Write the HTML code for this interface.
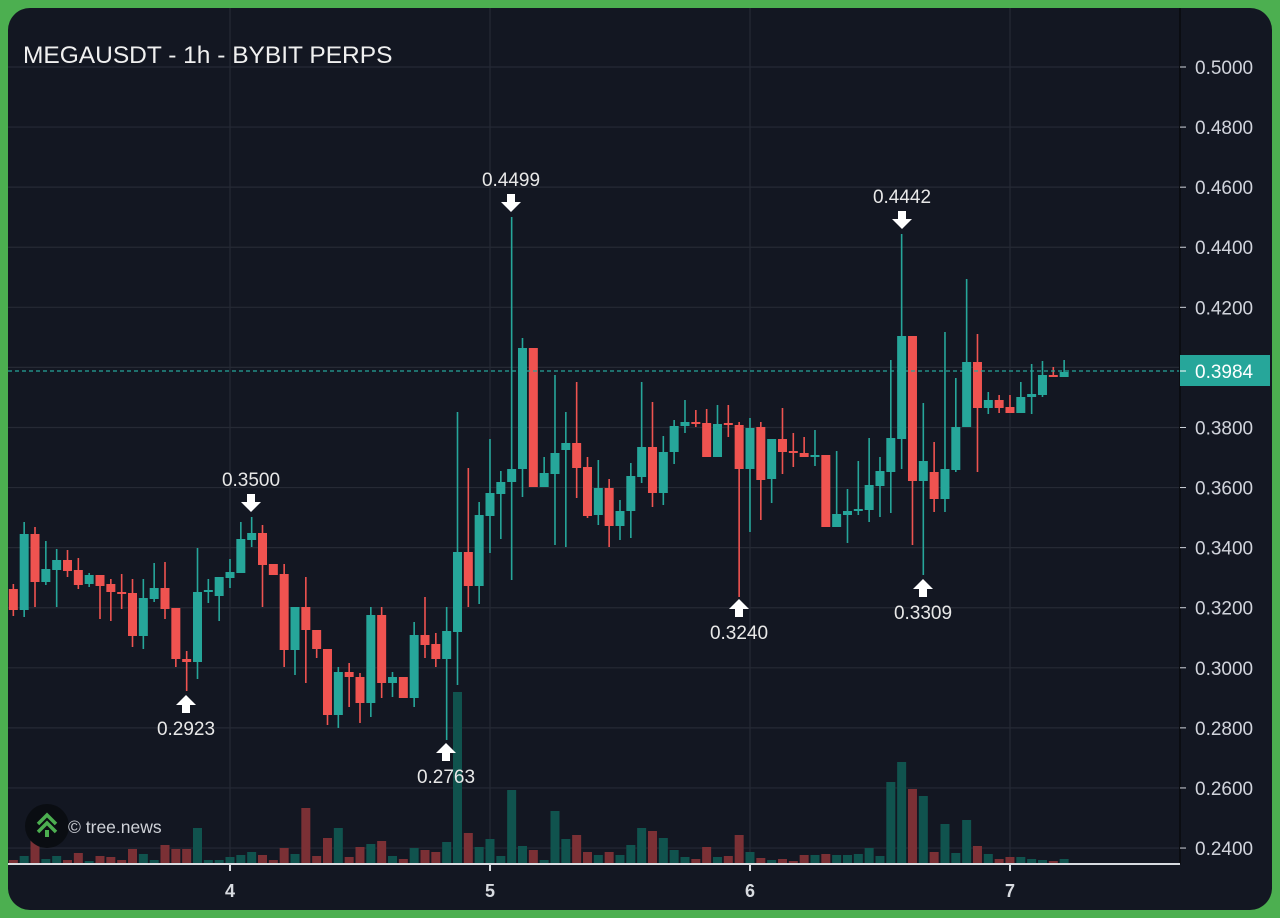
<!DOCTYPE html>
<html><head><meta charset="utf-8">
<style>
html,body{margin:0;padding:0;background:#4caf50;}
body{width:1280px;height:918px;overflow:hidden;font-family:"Liberation Sans",sans-serif;}
svg{display:block}
</style></head><body>
<svg id="s" width="1280" height="918" xmlns="http://www.w3.org/2000/svg">
<rect x="0" y="0" width="1280" height="918" fill="#4caf50"/>
<rect x="8" y="8" width="1264" height="902" rx="22" fill="#131722"/>
<g id="grid"></g>
<g id="vol"></g>
<g id="candles"></g>
<line x1="8" y1="371" x2="1180" y2="371" stroke="#26a69a" stroke-width="1.3" stroke-dasharray="4,3"/>
<line x1="1180" y1="8" x2="1180" y2="864" stroke="#0b0d12" stroke-width="2"/>
<line x1="8" y1="864" x2="1180" y2="864" stroke="#d8dbe0" stroke-width="2"/>
<g id="axis" font-size="19" fill="#d1d4dc"></g>
<rect x="1180" y="355" width="90" height="31" fill="#26a69a"/>
<line x1="1180" y1="371" x2="1186" y2="371" stroke="#fff" stroke-width="1"/>
<text x="1195" y="378" font-size="19" fill="#fff">0.3984</text>
<text x="23" y="63" font-size="24.5" fill="#f0f0f0">MEGAUSDT - 1h - BYBIT PERPS</text>
<g id="ann" font-size="19" fill="#e8e8e8" text-anchor="middle"></g>
<circle cx="47" cy="826" r="22" fill="#0a0d12"/>
<path d="M38 824 L47 815 L56 824 M38 832 L47 823 L56 832" stroke="#4caf50" stroke-width="3.5" fill="none"/>
<rect x="45" y="830" width="4" height="7" fill="#4caf50"/>
<text x="68" y="833" font-size="17.5" fill="#cfd2d8">© tree.news</text>
<g font-size="18" font-weight="bold" fill="#d8dbe0" text-anchor="middle">
<text x="230" y="897">4</text><text x="490" y="897">5</text><text x="750" y="897">6</text><text x="1010" y="897">7</text>
</g>
</svg>
<script>
var NS="http://www.w3.org/2000/svg";
function el(p,t,a,txt){var e=document.createElementNS(NS,t);for(var k in a)e.setAttribute(k,a[k]);if(txt)e.textContent=txt;document.getElementById(p).appendChild(e);return e;}
for(var k=0;k<14;k++){var y=67+k*60.08;el("grid","line",{x1:8,x2:1180,y1:y,y2:y,stroke:"#262a35","stroke-width":1.2});
el("axis","line",{x1:1180,x2:1186,y1:y,y2:y,stroke:"#d1d4dc"});
el("axis","text",{x:1195,y:y+7},(0.5-k*0.02).toFixed(4));}
[230,490,750,1010].forEach(function(x){el("grid","line",{x1:x,x2:x,y1:8,y2:864,stroke:"#262a35","stroke-width":1.2});el("axis","line",{x1:x,x2:x,y1:864,y2:871,stroke:"#d8dbe0","stroke-width":2});});
var C=[[589,610,584,616,'r'],[534,610,522,617,'g'],[534,582,527,607,'r'],[569,582,541,585,'g'],[560,570,549,607,'g'],[560,571,550,577,'r'],[570,585,558,589,'r'],[575,584,573,587,'g'],[575,586,575,619,'r'],[584,592,579,621,'r'],
[592,594,574,609,'r'],[593,636,579,647,'r'],[598,636,579,649,'g'],[588,599,563,602,'g'],[588,609,562,619,'r'],[608,659,608,667,'r'],[659,662,651,691,'r'],[592,662,548,679,'g'],[590,592,579,603,'g'],[577,596,577,621,'g'],
[572,578,559,588,'g'],[539,573,522,573,'g'],[533,540,517,547,'g'],[533,565,525,607,'r'],[564,575,564,575,'r'],[574,650,564,667,'r'],[607,650,607,675,'g'],[607,630,577,683,'r'],[630,649,630,658,'r'],[649,715,649,725,'r'],
[672,715,667,728,'g'],[672,677,663,707,'r'],[677,703,673,723,'r'],[615,703,607,717,'g'],[615,683,607,698,'r'],[677,683,672,697,'g'],[677,698,677,698,'r'],[635,698,622,707,'g'],[635,645,597,658,'r'],[644,659,633,667,'r'],
[631,659,607,740,'g'],[552,632,412,685,'g'],[552,586,468,607,'r'],[515,586,502,604,'g'],[493,516,439,553,'g'],[482,494,471,539,'g'],[469,482,217,580,'g'],[348,469,338,497,'g'],[348,487,348,487,'r'],[473,487,457,487,'g'],
[453,474,375,545,'g'],[443,450,412,547,'g'],[443,468,382,498,'r'],[467,516,457,518,'r'],[488,515,460,525,'g'],[488,526,479,547,'r'],[511,526,500,540,'g'],[476,511,463,538,'g'],[447,477,382,483,'g'],[447,493,402,507,'r'],
[452,493,436,505,'g'],[426,452,420,464,'g'],[422,426,400,433,'g'],[422,424,410,427,'r'],[423,457,409,457,'r'],[424,457,405,457,'g'],[423,425,405,437,'r'],[425,469,422,597,'r'],[428,469,418,532,'g'],[427,480,422,520,'r'],
[439,479,439,503,'g'],[439,452,408,474,'r'],[451,453,433,467,'r'],[453,457,437,457,'r'],[455,457,430,466,'g'],[455,527,455,527,'r'],[514,527,451,527,'g'],[511,515,489,543,'g'],[509,511,461,515,'g'],[485,510,438,522,'g'],
[471,486,457,517,'g'],[438,472,360,513,'g'],[336,439,234,469,'g'],[336,481,336,545,'r'],[461,481,403,575,'g'],[472,499,442,512,'r'],[469,499,332,512,'g'],[427,470,378,472,'g'],[362,427,279,427,'g'],[362,408,334,472,'r'],
[400,408,392,414,'g'],[400,408,395,413,'r'],[407,413,395,413,'r'],[397,413,382,413,'g'],[394,397,364,414,'g'],[375,395,361,397,'g'],[375,377,367,377,'r'],[372,377,360,377,'g']];
var V=[860,856,839,859,856,860,853,861,856,857,860,849,854,860,845,849,849,828,860,860,857,855,852,855,860,848,854,808,856,838,
828,857,847,844,841,856,859,848,850,852,842,692,833,847,839,856,790,846,850,860,811,839,835,852,855,852,855,845,828,831,
838,850,857,859,847,857,856,835,852,858,860,859,861,855,855,854,855,855,854,848,856,782,762,789,796,852,824,853,820,846,
854,859,857,857,859,860,861,859];
C.forEach(function(c,i){var x=230+(i-20)*10.833;var g=c[4]=='g';var col=g?"#26a69a":"#ef5350";
el("candles","line",{x1:x,x2:x,y1:c[2],y2:c[3],stroke:col,"stroke-width":1.6});
el("candles","rect",{x:x-4.5,y:c[0],width:9,height:Math.max(2,c[1]-c[0]),fill:col});
var v=V[i];el("vol","rect",{x:x-4.5,y:v,width:9,height:863-v,fill:g?"#10534e":"#7b3035"});});
function down(x,y,lbl){el("ann","text",{x:x,y:y},lbl);el("ann","path",{d:"M"+(x-4)+" "+(y+8)+"h8v8h6l-10 10l-10 -10h6z",fill:"#fff"});}
function up(x,y,lbl){el("ann","path",{d:"M"+(x-4)+" "+(y+17)+"h8v-8h6l-10 -10l-10 10h6z",fill:"#fff"});el("ann","text",{x:x,y:y+39},lbl);}
down(511,186,"0.4499");down(251,486,"0.3500");down(902,203,"0.4442");
up(186,696,"0.2923");up(446,744,"0.2763");up(739,600,"0.3240");up(923,580,"0.3309");
</script>
</body></html>
